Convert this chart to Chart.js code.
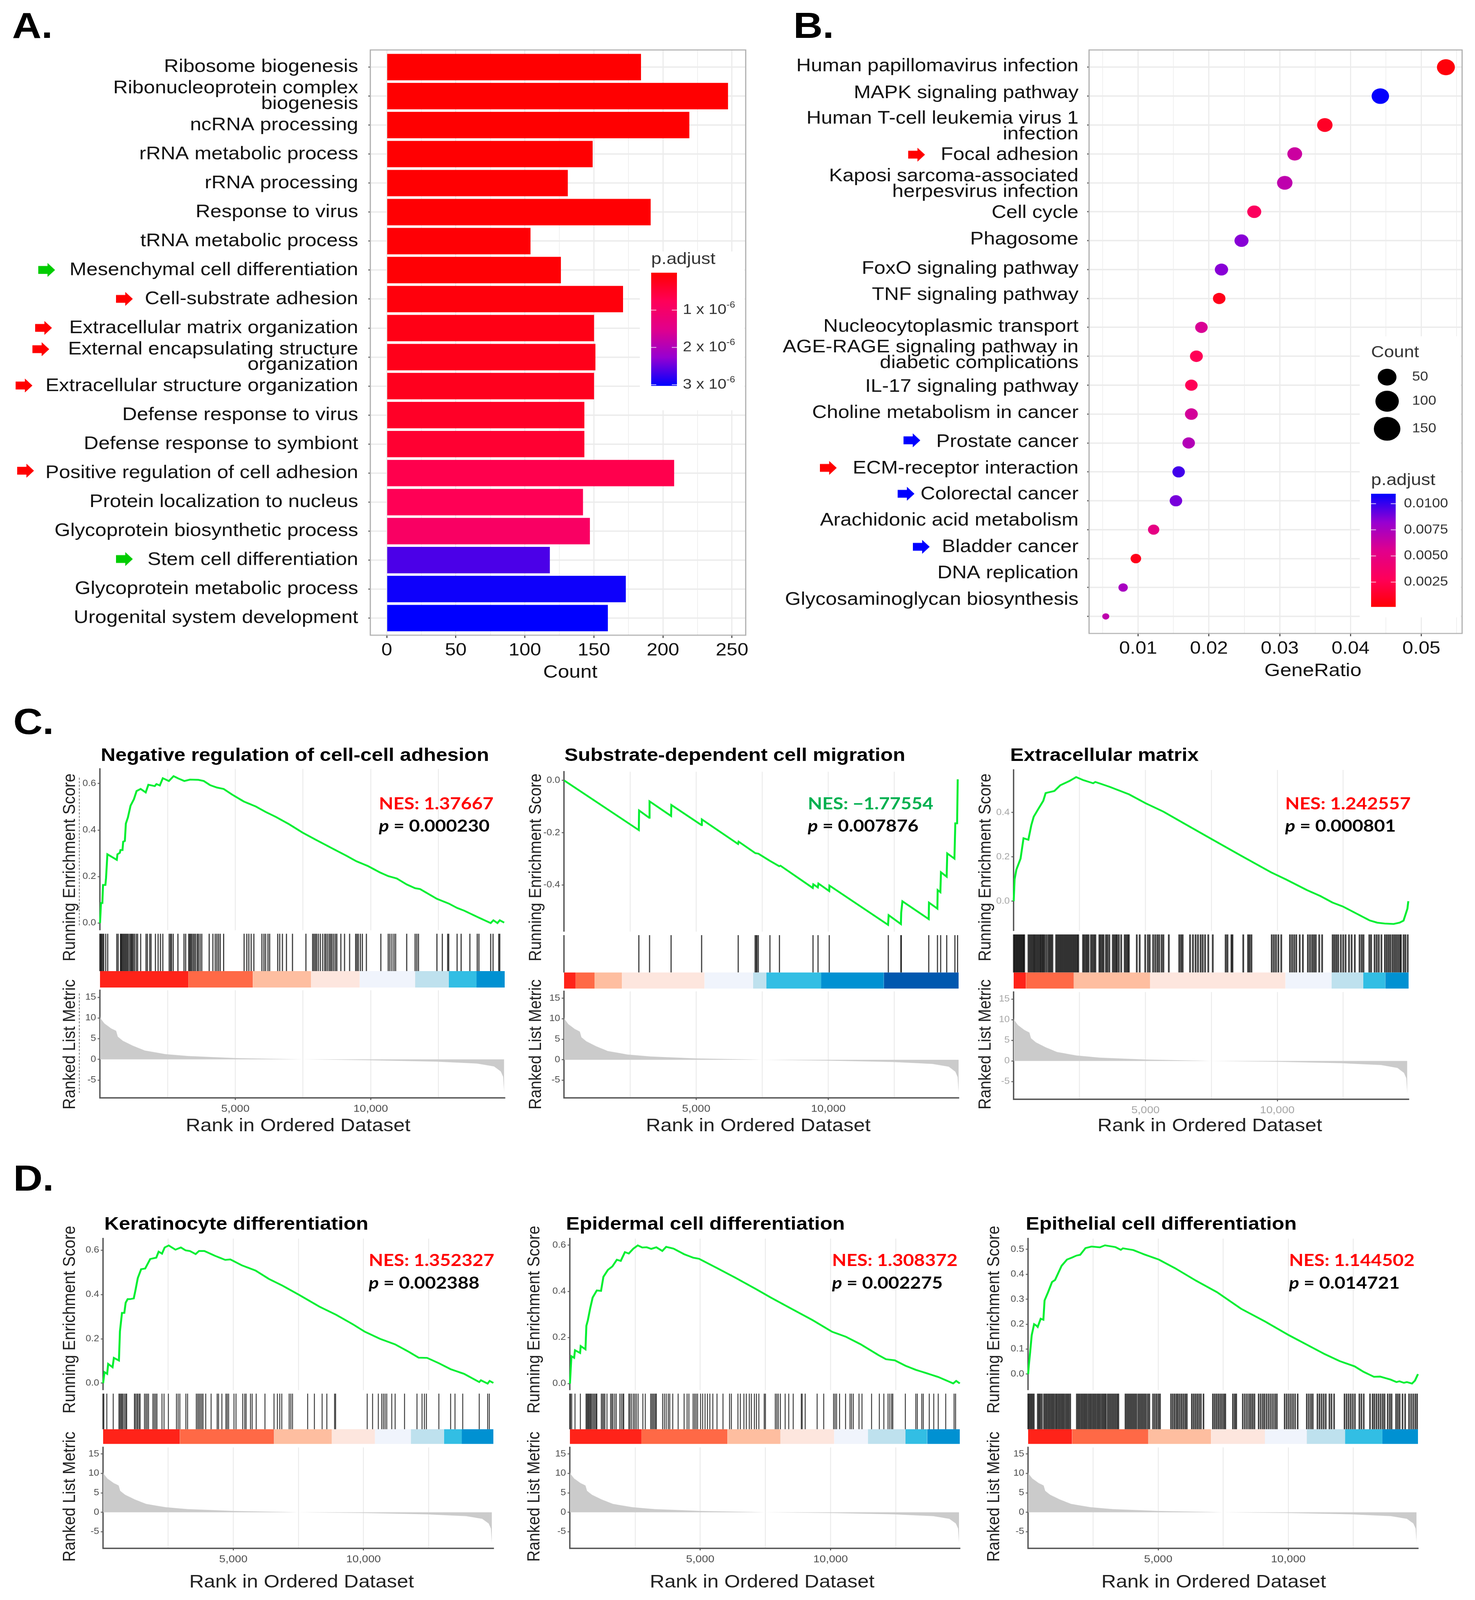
<!DOCTYPE html>
<html>
<head>
<meta charset="utf-8">
<title>Enrichment panels</title>
<script src="https://cdn.jsdelivr.net/npm/chart.js@4/dist/chart.umd.js"></script>
<style>
  html, body { margin: 0; padding: 0; background: #fff; }
  html { overflow: hidden; }
  body { position: relative; width: 3776px; height: 4582px; font-family: "Liberation Sans", sans-serif; transform-origin: 0 0; }
  canvas { position: absolute; }
  .txt { position: absolute; white-space: nowrap; line-height: 1; }
</style>
</head>
<body>
<script>
// ---- Panel A data
const goTerms = ['Ribosome biogenesis', ['Ribonucleoprotein complex', 'biogenesis'], 'ncRNA processing', 'rRNA metabolic process', 'rRNA processing', 'Response to virus', 'tRNA metabolic process', 'Mesenchymal cell differentiation', 'Cell-substrate adhesion', 'Extracellular matrix organization', ['External encapsulating structure', 'organization'], 'Extracellular structure organization', 'Defense response to virus', 'Defense response to symbiont', 'Positive regulation of cell adhesion', 'Protein localization to nucleus', 'Glycoprotein biosynthetic process', 'Stem cell differentiation', 'Glycoprotein metabolic process', 'Urogenital system development'];
const goCounts = [184, 247, 219, 149, 131, 191, 104, 126, 171, 150, 151, 150, 143, 143, 208, 142, 147, 118, 173, 160];
const goPadj = [0.01, 0.01, 0.01, 0.02, 0.02, 0.03, 0.04, 0.04, 0.1, 0.18, 0.22, 0.26, 0.34, 0.43, 0.66, 0.73, 0.92, 2.65, 2.96, 3.03];
const countTicks = [0, 25, 50, 75, 100, 125, 150, 175, 200, 225, 250];
const goLegendTicks = [1, 2, 3];

// ---- Panel B data
const keggTerms = ['Human papillomavirus infection', 'MAPK signaling pathway', ['Human T-cell leukemia virus 1', 'infection'], 'Focal adhesion', ['Kaposi sarcoma-associated', 'herpesvirus infection'], 'Cell cycle', 'Phagosome', 'FoxO signaling pathway', 'TNF signaling pathway', 'Nucleocytoplasmic transport', ['AGE-RAGE signaling pathway in', 'diabetic complications'], 'IL-17 signaling pathway', 'Choline metabolism in cancer', 'Prostate cancer', 'ECM-receptor interaction', 'Colorectal cancer', 'Arachidonic acid metabolism', 'Bladder cancer', 'DNA replication', 'Glycosaminoglycan biosynthesis'];
const keggRatio = [0.05347, 0.04421, 0.03637, 0.03212, 0.03071, 0.0264, 0.0246, 0.02177, 0.02145, 0.01894, 0.01823, 0.01752, 0.01752, 0.01714, 0.01572, 0.01534, 0.01219, 0.00968, 0.00788, 0.00543];
const keggCounts = [178, 165, 122, 110, 122, 96, 96, 84, 72, 72, 77, 72, 77, 72, 72, 72, 56, 47, 35, 17];
const keggPadj = [0.0003, 0.0109, 0.0012, 0.0063, 0.0068, 0.003, 0.0085, 0.0085, 0.0008, 0.0058, 0.0027, 0.0027, 0.006, 0.0072, 0.0098, 0.0088, 0.005, 0.0008, 0.0076, 0.0068];
const ratioTicks = [0.005, 0.01, 0.015, 0.02, 0.025, 0.03, 0.035, 0.04, 0.045, 0.05, 0.055];
const keggLegendTicks = [0.0025, 0.005, 0.0075, 0.01];
const keggLegendCounts = [50, 100, 150];

// ---- GSEA data, the ranked metric is the same list in every panel
const metricRanks = [0, 10, 161, 410, 596, 658, 844, 1216, 1650, 2395, 3264, 5000, 6987, 7483, 9965, 12447, 13936, 14557, 14805, 14892, 14930];
const metricValues = [10.5, 10, 8.7, 7.5, 6.9, 5.5, 4.5, 3.3, 2.15, 1.3, 0.8, 0.33, 0.07, 0, -0.2, -0.55, -1, -1.7, -2.9, -4.2, -8.1];
const rankTicks = [2500, 5000, 7500, 10000, 12500];
const metricTicks = [-5, 0, 5, 10, 15];

const c1Ranks = [0, 37, 87, 112, 199, 223, 273, 620, 645, 732, 757, 831, 856, 918, 955, 1030, 1129, 1253, 1352, 1501, 1688, 1787, 2023, 2085, 2209, 2321, 2544, 2718, 2891, 3115, 3326, 3636, 3835, 4071, 4319, 4567, 4877, 5311, 5746, 6118, 6490, 6987, 7483, 7980, 8600, 9097, 9469, 9903, 10337, 10648, 10958, 11330, 11640, 11826, 12447, 12881, 13192, 13440, 13999, 14433, 14533, 14682, 14769, 14930];
const c1Scores = [0, 0.086, 0.086, 0.164, 0.164, 0.194, 0.296, 0.272, 0.296, 0.302, 0.314, 0.314, 0.35, 0.353, 0.428, 0.454, 0.505, 0.533, 0.568, 0.577, 0.562, 0.595, 0.589, 0.598, 0.592, 0.623, 0.611, 0.632, 0.622, 0.611, 0.617, 0.616, 0.611, 0.593, 0.583, 0.577, 0.553, 0.523, 0.502, 0.478, 0.457, 0.425, 0.389, 0.358, 0.32, 0.29, 0.266, 0.245, 0.218, 0.202, 0.192, 0.166, 0.15, 0.146, 0.104, 0.084, 0.065, 0.054, 0.023, 0, 0.012, 0, 0.012, 0.002];
const c1Hits = [0, 37, 62, 99, 137, 211, 285, 620, 670, 757, 782, 807, 844, 881, 918, 956, 993, 1030, 1080, 1129, 1154, 1191, 1229, 1278, 1340, 1390, 1502, 1700, 1750, 1837, 1886, 2048, 2147, 2234, 2321, 2556, 2606, 2643, 2705, 2879, 3103, 3165, 3276, 3313, 3351, 3388, 3438, 3487, 3537, 3599, 3636, 3698, 3760, 4033, 4170, 4257, 4319, 4381, 4443, 4567, 5324, 5423, 5498, 5585, 5684, 5982, 6056, 6118, 6205, 6267, 6565, 6639, 6739, 6888, 7111, 7607, 7855, 7905, 7955, 8004, 8067, 8141, 8228, 8302, 8352, 8414, 8476, 8526, 8575, 8637, 8699, 8749, 8898, 9034, 9221, 9444, 9494, 9543, 9618, 9692, 9841, 10375, 10648, 10710, 10784, 10859, 10921, 11330, 11641, 11703, 11765, 12447, 12646, 12844, 12882, 13192, 13341, 13664, 13936, 13998, 14433, 14520, 14731, 14768];
const c1StripEnds = [3264, 5646, 7793, 9593, 11640, 12881, 13911, 14950];
const c1ScoreTicks = [0, 0.2, 0.4, 0.6];

const c2Ranks = [0, 2828, 2839, 3223, 3235, 4049, 4060, 5203, 5214, 6583, 6605, 7238, 7351, 7781, 8143, 8188, 9410, 9432, 9602, 9625, 10032, 10043, 12260, 12283, 12746, 12757, 12803, 13798, 13809, 14126, 14137, 14239, 14262, 14477, 14500, 14771, 14805, 14873, 14896];
const c2Scores = [0, -0.19, -0.115, -0.143, -0.08, -0.136, -0.094, -0.171, -0.149, -0.243, -0.234, -0.278, -0.28, -0.307, -0.328, -0.326, -0.411, -0.397, -0.409, -0.394, -0.423, -0.402, -0.552, -0.515, -0.549, -0.506, -0.462, -0.53, -0.467, -0.49, -0.419, -0.427, -0.351, -0.368, -0.279, -0.299, -0.164, -0.164, 0.004];
const c2Hits = [2830, 3235, 4050, 5205, 6590, 7230, 7270, 7300, 7350, 7790, 8150, 9420, 9610, 10035, 12270, 12745, 12760, 13800, 14130, 14250, 14480, 14790, 14890];
const c2StripEnds = [441, 1154, 2194, 5316, 7148, 7657, 9727, 12102, 14929];
const c2ScoreTicks = [-0.4, -0.2, 0];

const c3Ranks = [0, 34, 102, 261, 374, 556, 669, 760, 919, 1123, 1213, 1542, 1769, 2109, 2370, 2620, 3016, 3096, 3640, 4377, 5001, 5681, 6475, 7496, 8630, 9764, 10331, 11125, 11635, 12089, 12486, 13053, 13506, 13790, 14073, 14413, 14640, 14787, 14867, 14935, 14969];
const c3Scores = [0, 0.098, 0.142, 0.192, 0.284, 0.277, 0.343, 0.381, 0.413, 0.453, 0.488, 0.497, 0.523, 0.542, 0.56, 0.547, 0.532, 0.538, 0.516, 0.482, 0.442, 0.404, 0.35, 0.281, 0.205, 0.13, 0.098, 0.05, 0.023, -0.006, -0.024, -0.059, -0.087, -0.097, -0.101, -0.103, -0.097, -0.088, -0.059, -0.034, 0];
const c3Hits = [10, 50, 90, 130, 170, 210, 250, 290, 330, 370, 400, 560, 610, 660, 710, 760, 800, 850, 900, 950, 1000, 1040, 1090, 1130, 1180, 1250, 1320, 1370, 1420, 1470, 1610, 1660, 1710, 1760, 1810, 1860, 1910, 1960, 2010, 2060, 2110, 2160, 2210, 2260, 2310, 2360, 2410, 2450, 2630, 2680, 2740, 2790, 2840, 2930, 2990, 3050, 3100, 3250, 3300, 3360, 3410, 3500, 3560, 3630, 3760, 3820, 3880, 3920, 3990, 4080, 4210, 4270, 4330, 4370, 4670, 4780, 4990, 5090, 5160, 5290, 5370, 5450, 5520, 5610, 5680, 5885, 6280, 6350, 6410, 6690, 6800, 6900, 6990, 7090, 7170, 7260, 7382, 7552, 8040, 8110, 8260, 8300, 8709, 8890, 8950, 9020, 9790, 9870, 9950, 10040, 10150, 10480, 10560, 10640, 10720, 10850, 10970, 11160, 11240, 11320, 11390, 11460, 11590, 11700, 12100, 12170, 12240, 12310, 12410, 12500, 12590, 12720, 12820, 12940, 13120, 13200, 13270, 13490, 13560, 13690, 13770, 13850, 13950, 14080, 14150, 14220, 14290, 14370, 14440, 14510, 14580, 14650, 14690, 14790, 14860, 14950];
const c3StripEnds = [465, 2279, 5171, 10308, 12054, 13256, 14096, 14980];
const c3ScoreTicks = [0, 0.2, 0.4];

const d1Ranks = [0, 52, 155, 194, 362, 413, 607, 646, 724, 814, 866, 943, 1034, 1176, 1240, 1331, 1460, 1615, 1809, 2041, 2132, 2261, 2364, 2519, 2778, 2985, 3165, 3333, 3553, 3682, 3889, 4302, 4690, 4884, 5336, 5853, 6369, 6886, 7532, 8307, 8953, 9599, 10051, 10633, 11214, 11731, 12119, 12442, 12894, 13346, 13863, 14444, 14509, 14767, 14845, 14987];
const d1Scores = [0, 0.05, 0.042, 0.087, 0.072, 0.114, 0.102, 0.234, 0.317, 0.317, 0.363, 0.379, 0.379, 0.382, 0.418, 0.474, 0.514, 0.517, 0.56, 0.566, 0.593, 0.584, 0.612, 0.621, 0.602, 0.612, 0.599, 0.596, 0.582, 0.596, 0.596, 0.574, 0.556, 0.558, 0.531, 0.508, 0.47, 0.44, 0.398, 0.345, 0.308, 0.265, 0.232, 0.2, 0.175, 0.142, 0.115, 0.114, 0.09, 0.063, 0.042, 0.005, 0.013, -0.002, 0.01, 0.001];
const d1Hits = [26, 142, 388, 607, 646, 685, 724, 762, 814, 866, 904, 1202, 1240, 1292, 1331, 1382, 1421, 1589, 1641, 1693, 1744, 1912, 1964, 2016, 2067, 2261, 2339, 2506, 2817, 2881, 2946, 3178, 3243, 3579, 3631, 3682, 3734, 3786, 3837, 3941, 4147, 4380, 4432, 4561, 4716, 4767, 4819, 5026, 5103, 5362, 5439, 5491, 5659, 5724, 5879, 6215, 6563, 6693, 6783, 6861, 7145, 7209, 7274, 7855, 8114, 8411, 8592, 8889, 8928, 10142, 10349, 10569, 10698, 10763, 10828, 10892, 11085, 11215, 11576, 12054, 12248, 12339, 12416, 12894, 13346, 13514, 13811, 14445, 14768, 14832];
const d1StripEnds = [2946, 6563, 8786, 10439, 11822, 13088, 13773, 14987];
const d1ScoreTicks = [0, 0.2, 0.4, 0.6];

const d2Ranks = [0, 57, 161, 195, 390, 413, 596, 631, 688, 780, 872, 1032, 1193, 1285, 1457, 1629, 1801, 1950, 2110, 2259, 2432, 2604, 2776, 2948, 3120, 3315, 3544, 3693, 3980, 4381, 4726, 4955, 5643, 6331, 7134, 7708, 8511, 9314, 10059, 10575, 11149, 11837, 12124, 12468, 12869, 13271, 13615, 14131, 14418, 14705, 14820, 14957];
const d2Scores = [0, 0.119, 0.112, 0.145, 0.133, 0.163, 0.149, 0.251, 0.275, 0.328, 0.373, 0.404, 0.402, 0.463, 0.493, 0.508, 0.537, 0.532, 0.57, 0.564, 0.585, 0.599, 0.59, 0.591, 0.584, 0.591, 0.575, 0.593, 0.585, 0.561, 0.546, 0.541, 0.501, 0.46, 0.41, 0.373, 0.324, 0.275, 0.225, 0.204, 0.171, 0.124, 0.106, 0.101, 0.078, 0.06, 0.048, 0.029, 0.015, 0.001, 0.012, 0.001];
const d2Hits = [23, 69, 195, 401, 619, 654, 688, 723, 757, 792, 826, 872, 918, 964, 1009, 1032, 1204, 1250, 1296, 1342, 1422, 1560, 1606, 1652, 1720, 1778, 1915, 1973, 2030, 2065, 2260, 2305, 2363, 2432, 2489, 2547, 2616, 2799, 2891, 3097, 3143, 3189, 3235, 3281, 3315, 3556, 3625, 3693, 3773, 3830, 3945, 4152, 4381, 4496, 4565, 4726, 4783, 4840, 4898, 5012, 5093, 5185, 5277, 5368, 5483, 5643, 5873, 6125, 6194, 6446, 6538, 6675, 6767, 6882, 6962, 7077, 7157, 7249, 7455, 7501, 7880, 7937, 7994, 8075, 8258, 8395, 8567, 8877, 8911, 9026, 9485, 9738, 10116, 10173, 10231, 10345, 10575, 10747, 10805, 10873, 11091, 11206, 11573, 11871, 12044, 12205, 12273, 12342, 12388, 12869, 13271, 13328, 13500, 13557, 13787, 13959, 14131, 14418, 14739, 14796];
const d2StripEnds = [2741, 6045, 8075, 10139, 11436, 12869, 13706, 14957];
const d2ScoreTicks = [0, 0.2, 0.4, 0.6];

const d3Ranks = [0, 23, 80, 138, 230, 322, 368, 483, 586, 632, 770, 919, 1034, 1287, 1494, 1689, 1861, 2000, 2206, 2436, 2758, 2953, 3355, 3562, 3642, 4044, 4504, 5021, 5653, 6457, 7262, 8181, 9100, 10019, 10708, 11398, 11972, 12547, 12892, 13294, 13524, 13926, 14156, 14271, 14443, 14558, 14753, 14868, 14983];
const d3Scores = [0, 0.031, 0.091, 0.156, 0.2, 0.194, 0.189, 0.222, 0.218, 0.295, 0.329, 0.369, 0.377, 0.434, 0.459, 0.467, 0.475, 0.478, 0.505, 0.511, 0.508, 0.516, 0.509, 0.498, 0.504, 0.497, 0.478, 0.459, 0.424, 0.374, 0.328, 0.262, 0.211, 0.156, 0.118, 0.08, 0.052, 0.031, 0.009, -0.011, -0.01, -0.022, -0.032, -0.029, -0.035, -0.032, -0.038, -0.026, 0];
const d3Hits = [20, 70, 120, 170, 220, 370, 420, 470, 530, 610, 665, 720, 780, 835, 890, 945, 1000, 1060, 1110, 1170, 1225, 1280, 1335, 1390, 1450, 1505, 1560, 1620, 1870, 1925, 1980, 2040, 2095, 2150, 2205, 2260, 2320, 2375, 2430, 2490, 2545, 2600, 2660, 2715, 2770, 2830, 2885, 2940, 2990, 3060, 3120, 3180, 3240, 3300, 3360, 3420, 3470, 3740, 3800, 3860, 3920, 3980, 4040, 4100, 4160, 4230, 4290, 4350, 4410, 4470, 4530, 4600, 4660, 4800, 4870, 4940, 5010, 5070, 5490, 5560, 5630, 5700, 5760, 5830, 5900, 5970, 6040, 6100, 6290, 6360, 6430, 6500, 6570, 6640, 6740, 7100, 7170, 7240, 7310, 7380, 7450, 7520, 7580, 7870, 7940, 8000, 8250, 8330, 8410, 8490, 8560, 8630, 8700, 8860, 8940, 9020, 9090, 9170, 9250, 9330, 9410, 9490, 9560, 9860, 9940, 10020, 10100, 10180, 10260, 10360, 10710, 10790, 10870, 10940, 11120, 11200, 11280, 11360, 11440, 11580, 11660, 11760, 12160, 12240, 12320, 12400, 12480, 12560, 12730, 12810, 12900, 13140, 13240, 13310, 13390, 13470, 13550, 13630, 13700, 13820, 13900, 13970, 14140, 14210, 14280, 14390, 14490, 14640, 14720, 14800, 14880, 14950];
const d3StripEnds = [1689, 4619, 7032, 9100, 10709, 12179, 13616, 14983];
const d3ScoreTicks = [0, 0.1, 0.2, 0.3, 0.4, 0.5];

// ---- Styles and layout
const PAGE_HEIGHT = 4582;
const FONT = '"Liberation Sans", sans-serif';
const stripColors = ['#ff2319', '#ff6946', '#febea0', '#fde6de', '#f0f4fc', '#bee1ee', '#32bee4', '#0091d2', '#0058af'];
const rampStops = [[0, 255, 0, 0], [0.25, 255, 0, 88], [0.5, 225, 0, 140], [0.75, 150, 0, 210], [1, 0, 0, 255]];
const GRID = '#ececec';
const AXIS = '#555555';
const HIT_COLOR = 'rgba(0,0,0,0.74)';

const gseaPanels = [
  { title: 'Negative regulation of cell-cell adhesion', nes: 'NES: 1.37667', nesColor: '#ff0000', p: '0.000230', ranks: c1Ranks, scores: c1Scores, hits: c1Hits, ends: c1StripEnds, ticks: c1ScoreTicks,
    L: 256, R: 1292, esT: 2202, esB: 2664, rugT: 2674, rugB: 2781, stripB: 2828, mT: 2836, mB: 3144, yMin: -0.031, yMax: 0.663, maxRank: 14950, hitW: 3,
    titleX: 258, titleY: 2161, nesX: 970, nesY: 2300, pY: 2364, ylabX: 176, resY: 2484, rlmY: 2991, xlabX: 763, xlabY: 3222, tickColor: '#4d4d4d' },
  { title: 'Substrate-dependent cell migration', nes: 'NES: \u22121.77554', nesColor: '#00b050', p: '0.007876', ranks: c2Ranks, scores: c2Scores, hits: c2Hits, ends: c2StripEnds, ticks: c2ScoreTicks,
    L: 1444, R: 2454, esT: 2210, esB: 2668, rugT: 2678, rugB: 2785, stripB: 2831, mT: 2839, mB: 3144, yMin: -0.578, yMax: 0.033, maxRank: 14929, hitW: 3,
    titleX: 1445, titleY: 2161, nesX: 2068, nesY: 2300, pY: 2364, ylabX: 1369, resY: 2484, rlmY: 2991, xlabX: 1941, xlabY: 3222, tickColor: '#4d4d4d' },
  { title: 'Extracellular matrix', nes: 'NES: 1.242557', nesColor: '#ff0000', p: '0.000801', ranks: c3Ranks, scores: c3Scores, hits: c3Hits, ends: c3StripEnds, ticks: c3ScoreTicks,
    L: 2595, R: 3606, esT: 2205, esB: 2666, rugT: 2676, rugB: 2785, stripB: 2831, mT: 2841, mB: 3148, yMin: -0.1345, yMax: 0.592, maxRank: 14980, hitW: 4.5,
    titleX: 2586, titleY: 2161, nesX: 3290, nesY: 2300, pY: 2364, ylabX: 2520, resY: 2484, rlmY: 2991, xlabX: 3097, xlabY: 3222, tickColor: '#a6a6a6' },
  { title: 'Keratinocyte differentiation', nes: 'NES: 1.352327', nesColor: '#ff0000', p: '0.002388', ranks: d1Ranks, scores: d1Scores, hits: d1Hits, ends: d1StripEnds, ticks: d1ScoreTicks,
    L: 264, R: 1263, esT: 3547, esB: 3981, rugT: 3991, rugB: 4093, stripB: 4135, mT: 4145, mB: 4434, yMin: -0.0315, yMax: 0.652, maxRank: 14987, hitW: 2.5,
    titleX: 267, titleY: 3503, nesX: 944, nesY: 3608, pY: 3672, ylabX: 176, resY: 3779, rlmY: 4286, xlabX: 772, xlabY: 4528, tickColor: '#4d4d4d' },
  { title: 'Epidermal cell differentiation', nes: 'NES: 1.308372', nesColor: '#ff0000', p: '0.002275', ranks: d2Ranks, scores: d2Scores, hits: d2Hits, ends: d2StripEnds, ticks: d2ScoreTicks,
    L: 1459, R: 2457, esT: 3547, esB: 3981, rugT: 3991, rugB: 4093, stripB: 4135, mT: 4145, mB: 4434, yMin: -0.028, yMax: 0.6286, maxRank: 14957, hitW: 2.5,
    titleX: 1449, titleY: 3503, nesX: 2130, nesY: 3608, pY: 3672, ylabX: 1365, resY: 3779, rlmY: 4286, xlabX: 1951, xlabY: 4528, tickColor: '#4d4d4d' },
  { title: 'Epithelial cell differentiation', nes: 'NES: 1.144502', nesColor: '#ff0000', p: '0.014721', ranks: d3Ranks, scores: d3Scores, hits: d3Hits, ends: d3StripEnds, ticks: d3ScoreTicks,
    L: 2632, R: 3630, esT: 3547, esB: 3981, rugT: 3991, rugB: 4093, stripB: 4135, mT: 4145, mB: 4434, yMin: -0.0644, yMax: 0.543, maxRank: 14983, hitW: 4,
    titleX: 2626, titleY: 3503, nesX: 3300, nesY: 3608, pY: 3672, ylabX: 2542, resY: 3779, rlmY: 4286, xlabX: 3107, xlabY: 4528, tickColor: '#4d4d4d' }
];

// arrows next to the labels: page x, page y, colour
const GREEN = '#00cc00', RED = '#ff0000', BLUE = '#0000ff';
const arrows = [
  [119, 773, GREEN], [318, 856, RED], [111, 939, RED], [104, 1000, RED], [61, 1104, RED], [65, 1348, RED], [318, 1601, GREEN],
  [2346, 443, RED], [2334, 1261, BLUE], [2120, 1340, RED], [2319, 1414, BLUE], [2358, 1566, BLUE]
];
// vertical shift of panel B labels from their tick
const keggLabelShift = [-3, -9, 4, 3, 4, 3, -3, -2, -10, -2, -3, 5, -3, -3, -10, -18, -26, -33, -41, -48];

Chart.defaults.font.family = FONT;
Chart.defaults.animation = false;

// the window can come out shorter than asked for, keep the whole figure in view
if (window.innerHeight < PAGE_HEIGHT) {
  document.body.style.transform = `scale(1,${window.innerHeight / PAGE_HEIGHT})`;
}

function rampColor(t) {
  t = Math.max(0, Math.min(1, t));
  for (let i = 1; i < rampStops.length; i++) {
    if (t <= rampStops[i][0]) {
      const a = rampStops[i - 1], b = rampStops[i];
      const f = (t - a[0]) / (b[0] - a[0]);
      return `rgb(${Math.round(a[1] + (b[1] - a[1]) * f)},${Math.round(a[2] + (b[2] - a[2]) * f)},${Math.round(a[3] + (b[3] - a[3]) * f)})`;
    }
  }
  return 'rgb(0,0,255)';
}

function addText(html, x, y, css, center) {
  const el = document.createElement('div');
  el.className = 'txt';
  el.innerHTML = html;
  el.style.left = x + 'px';
  el.style.top = y + 'px';
  el.style.transform = center ? 'translate(-50%,-50%)' : 'translateY(-50%)';
  Object.assign(el.style, css);
  document.body.appendChild(el);
  return el;
}

function addVertical(text, x, y, size) {
  const el = addText(text, x, y, { fontSize: size + 'px', color: '#222' }, true);
  el.style.transform = 'translate(-50%,-50%) rotate(-90deg)';
}

function addArrow(x, y, color) {
  const el = document.createElement('div');
  el.style.cssText = `position:absolute;left:${x - 21}px;top:${y - 20}px;width:43px;height:40px;background:${color};clip-path:polygon(0 22%,55% 22%,55% 0,100% 50%,55% 100%,55% 78%,0 78%)`;
  document.body.appendChild(el);
}

function addDash(x, top, bottom) {
  const el = document.createElement('div');
  el.style.cssText = `position:absolute;left:${x}px;top:${top}px;height:${bottom - top}px;border-left:2px dashed #777`;
  document.body.appendChild(el);
}

// chart with the plot area at an exact page rectangle
function addChart(left, top, right, bottom, m, config) {
  const canvas = document.createElement('canvas');
  canvas.width = right - left + m.l + m.r;
  canvas.height = bottom - top + m.t + m.b;
  canvas.style.left = (left - m.l) + 'px';
  canvas.style.top = (top - m.t) + 'px';
  document.body.appendChild(canvas);
  config.options.responsive = false;
  config.options.devicePixelRatio = 1;
  config.options.layout = { autoPadding: false, padding: { top: m.t, right: m.r, left: 0, bottom: 0 } };
  config.options.plugins = Object.assign({ legend: { display: false }, tooltip: { enabled: false } }, config.options.plugins);
  return new Chart(canvas, config);
}

function fitWidth(w) {
  return s => { s.width = w; s.paddingTop = s.paddingBottom = s.paddingLeft = s.paddingRight = 0; };
}
function fitHeight(h) {
  return s => { s.height = h; s.paddingTop = s.paddingBottom = s.paddingLeft = s.paddingRight = 0; };
}
function fixedTicks(values) {
  return s => { s.ticks = values.map(v => ({ value: v })); };
}

const boxPlugin = {
  id: 'box',
  afterDraw(chart) {
    const a = chart.chartArea, ctx = chart.ctx;
    ctx.save();
    ctx.strokeStyle = '#b0b0b0';
    ctx.lineWidth = 3;
    ctx.strokeRect(a.left, a.top, a.right - a.left, a.bottom - a.top);
    ctx.restore();
  }
};

// p.adjust colour bar, drawn in page coordinates
function drawColorbar(ctx, o) {
  ctx.fillStyle = '#fff';
  ctx.fillRect(o.bgX, o.bgY, o.bgW, o.bgH);
  ctx.fillStyle = '#333';
  ctx.font = `47px ${FONT}`;
  ctx.textAlign = 'left';
  ctx.textBaseline = 'middle';
  ctx.fillText('p.adjust', o.x, o.titleY);
  const g = ctx.createLinearGradient(0, o.top, 0, o.bottom);
  for (let i = 0; i <= 40; i++) {
    const p = o.pTop + (o.pBottom - o.pTop) * i / 40;
    g.addColorStop(i / 40, rampColor(p / o.pMax));
  }
  ctx.fillStyle = g;
  ctx.fillRect(o.x, o.top, o.w, o.bottom - o.top);
  o.ticks.forEach(v => {
    const y = o.top + (v - o.pTop) / (o.pBottom - o.pTop) * (o.bottom - o.top);
    ctx.fillStyle = 'rgba(255,255,255,0.85)';
    ctx.fillRect(o.x, y - 1, o.w / 5, 2);
    ctx.fillRect(o.x + o.w * 4 / 5, y - 1, o.w / 5, 2);
    ctx.fillStyle = '#333';
    o.drawLabel(ctx, v, y);
  });
}

function goLegend(ox, oy) {
  return {
    id: 'goLegend',
    afterDatasetsDraw(chart) {
      const ctx = chart.ctx;
      ctx.save();
      ctx.translate(-ox, -oy);
      drawColorbar(ctx, {
        bgX: 1638, bgY: 720, bgW: 268, bgH: 455, x: 1667, w: 66, titleY: 743, top: 781, bottom: 1105,
        pTop: 0, pBottom: 3.03, pMax: 3.03, ticks: goLegendTicks,
        drawLabel(c, v, y) {
          c.font = `41px ${FONT}`;
          const base = `${v} x 10`;
          c.fillText(base, 1748, y);
          const w = c.measureText(base).width;
          c.font = `25px ${FONT}`;
          c.fillText('-6', 1748 + w, y - 14);
        }
      });
      ctx.restore();
    }
  };
}

function keggLegend(ox, oy) {
  return {
    id: 'keggLegend',
    afterDatasetsDraw(chart) {
      const ctx = chart.ctx;
      ctx.save();
      ctx.translate(-ox, -oy);
      drawColorbar(ctx, {
        bgX: 3481, bgY: 963, bgW: 258, bgH: 805, x: 3510, w: 63, titleY: 1376, top: 1414, bottom: 1738,
        pTop: 0.01095, pBottom: 0.00013, pMax: 0.011, ticks: keggLegendTicks,
        drawLabel(c, v, y) {
          c.font = `37px ${FONT}`;
          c.fillText(v.toFixed(4), 3594, y);
        }
      });
      ctx.fillStyle = '#333';
      ctx.font = `46px ${FONT}`;
      ctx.fillText('Count', 3510, 1010);
      const ys = [1080, 1149, 1228], rs = [24, 30, 34];
      keggLegendCounts.forEach((c, i) => {
        ctx.fillStyle = '#000';
        ctx.beginPath();
        ctx.arc(3551, ys[i], rs[i], 0, Math.PI * 2);
        ctx.fill();
        ctx.fillStyle = '#333';
        ctx.font = `37px ${FONT}`;
        ctx.fillText(String(c), 3615, ys[i]);
      });
      ctx.restore();
    }
  };
}

// panel B labels sit off their ticks, so they are placed one by one
const keggLabelPlugin = {
  id: 'keggLabels',
  afterDraw(chart) {
    const ctx = chart.ctx, s = chart.scales.y, rightEdge = chart.chartArea.left - 27;
    ctx.save();
    ctx.fillStyle = '#111';
    ctx.font = `52px ${FONT}`;
    ctx.textAlign = 'right';
    ctx.textBaseline = 'middle';
    keggTerms.forEach((term, i) => {
      const lines = Array.isArray(term) ? term : [term];
      const y = s.getPixelForValue(i) + keggLabelShift[i];
      lines.forEach((line, k) => ctx.fillText(line, rightEdge, y + (k - (lines.length - 1) / 2) * 45));
    });
    ctx.restore();
  }
};

// ---- Panel A
addChart(948, 143, 1909, 1819, { l: 948, r: 41, t: 13, b: 161 }, {
  type: 'bar',
  data: {
    datasets: [{
      data: goCounts.map((c, i) => ({ x: c, y: i })),
      backgroundColor: goPadj.map(p => rampColor(p / 3.03)),
      barThickness: 75
    }]
  },
  options: {
    indexAxis: 'y',
    scales: {
      x: {
        type: 'linear', min: -11.9, max: 259.9,
        afterBuildTicks: fixedTicks(countTicks), afterFit: fitHeight(161),
        grid: { color: GRID, lineWidth: c => c.tick && c.tick.value % 50 ? 1.5 : 3, tickLength: 8, tickWidth: 3,
          tickColor: c => c.tick && c.tick.value % 50 ? 'transparent' : '#555' },
        border: { display: false },
        ticks: { autoSkip: false, maxRotation: 0, minRotation: 0, padding: 6, color: '#111', font: { size: 50 },
          callback: v => v % 50 ? '' : v }
      },
      y: {
        type: 'linear', reverse: true, offset: false, min: -0.591, max: 19.59,
        afterBuildTicks: fixedTicks(goTerms.map((t, i) => i)), afterFit: fitWidth(948),
        grid: { offset: false, color: GRID, lineWidth: 4, tickLength: 5, tickWidth: 3, tickColor: '#555' },
        border: { display: false },
        ticks: { autoSkip: false, padding: 26, color: '#111', font: { size: 52, lineHeight: 0.86 }, callback: v => goTerms[v] }
      }
    }
  },
  plugins: [goLegend(0, 130), boxPlugin]
});

// ---- Panel B
addChart(2788, 143, 3743, 1814, { l: 800, r: 33, t: 13, b: 166 }, {
  type: 'scatter',
  data: {
    datasets: [{
      data: keggRatio.map((r, i) => ({ x: r, y: i })),
      pointRadius: keggCounts.map(c => 23 * Math.pow(c / 178, 0.4)),
      pointBackgroundColor: keggPadj.map(p => rampColor(p / 0.011)),
      pointBorderWidth: 0
    }]
  },
  options: {
    scales: {
      x: {
        type: 'linear', min: 0.00307, max: 0.05576,
        afterBuildTicks: fixedTicks(ratioTicks), afterFit: fitHeight(166),
        grid: { color: GRID, lineWidth: c => c.tick && Math.round(c.tick.value * 1000) % 10 ? 1.5 : 3, tickLength: 8, tickWidth: 3,
          tickColor: c => c.tick && Math.round(c.tick.value * 1000) % 10 ? 'transparent' : '#555' },
        border: { display: false },
        ticks: { autoSkip: false, maxRotation: 0, minRotation: 0, padding: 6, color: '#111', font: { size: 50 },
          callback: v => Math.round(v * 1000) % 10 ? '' : v.toFixed(2) }
      },
      y: {
        type: 'linear', reverse: true, min: -0.598, max: 19.59,
        afterBuildTicks: fixedTicks(keggTerms.map((t, i) => i)), afterFit: fitWidth(800),
        grid: { color: GRID, lineWidth: 4, tickLength: 5, tickWidth: 3, tickColor: '#555' },
        border: { display: false },
        ticks: { autoSkip: false, callback: () => '' }
      }
    }
  },
  plugins: [keggLegend(1988, 130), boxPlugin, keggLabelPlugin]
});

// ---- GSEA panels
gseaPanels.forEach(p => {
  const hiddenRank = { type: 'linear', min: 0, max: p.maxRank, display: false };
  const rankAxis = (labels, h) => ({
    type: 'linear', min: 0, max: p.maxRank,
    afterBuildTicks: fixedTicks(rankTicks), afterFit: fitHeight(h),
    grid: { color: GRID, lineWidth: 2.5, drawTicks: labels, tickLength: 6, tickWidth: 2.5,
      tickColor: c => c.tick && c.tick.value % 5000 ? 'transparent' : '#555' },
    border: { display: labels, color: AXIS, width: 4 },
    ticks: { display: labels, autoSkip: false, maxRotation: 0, minRotation: 0, padding: 9, color: p.tickColor, font: { size: 29 },
      callback: v => v % 5000 ? '' : v.toLocaleString('en-US') }
  });

  // running enrichment score
  addChart(p.L, p.esT, p.R, p.esB, { l: 110, r: 6, t: 4, b: 0 }, {
    type: 'scatter',
    data: { datasets: [{ data: p.ranks.map((r, i) => ({ x: r, y: p.scores[i] })), showLine: true, borderColor: '#00ee30', borderWidth: 5, pointRadius: 0, tension: 0, clip: false }] },
    options: {
      scales: {
        x: rankAxis(false, 0),
        y: {
          type: 'linear', min: p.yMin, max: p.yMax,
          afterBuildTicks: fixedTicks(p.ticks), afterFit: fitWidth(110),
          grid: { drawOnChartArea: false, tickLength: 6, tickWidth: 2.5, tickColor: '#555' },
          border: { color: AXIS, width: 3.5 },
          ticks: { autoSkip: false, padding: 4, color: p.tickColor, font: { size: 25 }, callback: v => v.toFixed(1) }
        }
      }
    }
  });

  // hit lines
  const rugH = p.rugB - p.rugT;
  addChart(p.L, p.rugT, p.R, p.rugB, { l: 4, r: 0, t: 0, b: 0 }, {
    type: 'scatter',
    data: { datasets: [{ data: p.hits.map(h => ({ x: h, y: 0.5 })), pointStyle: 'line', pointRotation: 90, pointRadius: rugH / 2, pointBorderWidth: p.hitW, pointBorderColor: HIT_COLOR }] },
    options: {
      scales: {
        x: hiddenRank,
        y: { type: 'linear', min: 0, max: 1, afterFit: fitWidth(4), grid: { display: false }, ticks: { display: false }, border: { color: AXIS, width: 3.5 } }
      }
    }
  });

  // colour strip, with the hits faintly on top
  const stripH = p.stripB - p.rugB;
  const segments = p.ends.map((end, i) => ({
    data: [{ x: i ? p.ends[i - 1] : 0, y: 1 }, { x: end, y: 1 }],
    showLine: true, fill: 'origin', backgroundColor: stripColors[i], borderWidth: 0, pointRadius: 0
  }));
  addChart(p.L, p.rugB, p.R, p.stripB, { l: 0, r: 0, t: 0, b: 0 }, {
    type: 'scatter',
    data: { datasets: segments.concat([{ data: p.hits.map(h => ({ x: h, y: 0.5 })), pointStyle: 'line', pointRotation: 90, pointRadius: stripH / 2, pointBorderWidth: p.hitW, pointBorderColor: 'rgba(0,0,0,0.08)' }]) },
    options: {
      scales: {
        x: hiddenRank,
        y: { type: 'linear', min: 0, max: 1, display: false }
      }
    }
  });

  // ranked list metric
  addChart(p.L, p.mT, p.R, p.mB, { l: 110, r: 6, t: 4, b: 60 }, {
    type: 'scatter',
    data: { datasets: [{ data: metricRanks.map((r, i) => ({ x: r, y: metricValues[i] })), showLine: true, fill: 'origin', backgroundColor: '#cbcbcb', borderWidth: 0, pointRadius: 0, tension: 0 }] },
    options: {
      scales: {
        x: rankAxis(true, 60),
        y: {
          type: 'linear', min: -9.3, max: 16.7,
          afterBuildTicks: fixedTicks(metricTicks), afterFit: fitWidth(110),
          grid: { drawOnChartArea: false, tickLength: 6, tickWidth: 2.5, tickColor: '#555' },
          border: { color: AXIS, width: 3.5 },
          ticks: { autoSkip: false, padding: 4, color: p.tickColor, font: { size: 25 } }
        }
      }
    }
  });

  addText(p.title, p.titleX, p.titleY, { fontSize: '52px', fontWeight: 'bold', color: '#000' });
  addText(p.nes, p.nesX, p.nesY, { fontFamily: 'Lato, sans-serif', fontSize: '48px', fontWeight: 'bold', color: p.nesColor });
  addText(`<i>p</i> = ${p.p}`, p.nesX, p.pY, { fontFamily: 'Lato, sans-serif', fontSize: '48px', fontWeight: 'bold', color: '#000' });
  addVertical('Running Enrichment Score', p.ylabX, p.resY, 45);
  addVertical('Ranked List Metric', p.ylabX, p.rlmY, 45);
  addText('Rank in Ordered Dataset', p.xlabX, p.xlabY, { fontSize: '52px', color: '#222' }, true);
});

// ---- Overlay text and arrows
addText('Count', 1460, 1923, { fontSize: '52px', color: '#111' }, true);
addText('GeneRatio', 3361, 1918, { fontSize: '52px', color: '#111' }, true);
[['A.', 31, 72], ['B.', 2031, 72], ['C.', 34, 2066], ['D.', 34, 3374]].forEach(l => {
  addText(l[0], l[1], l[2], { fontSize: '104px', fontWeight: 'bold', color: '#000' });
});
arrows.forEach(a => addArrow(a[0], a[1], a[2]));
addDash(202, 2227, 2650);
addDash(202, 2845, 3130);
</script>
</body>
</html>
